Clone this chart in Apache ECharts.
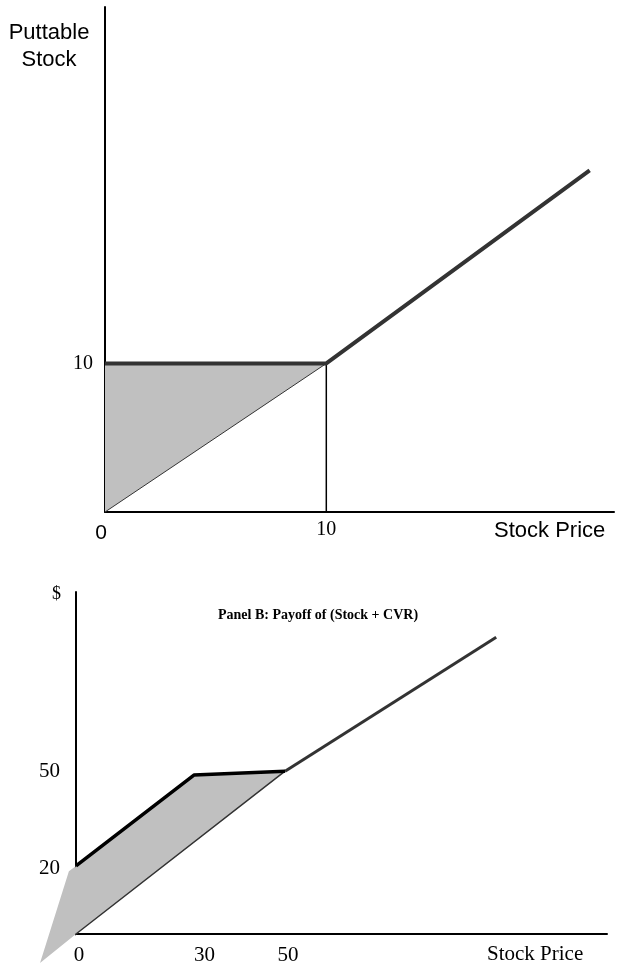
<!DOCTYPE html>
<html>
<head>
<meta charset="utf-8">
<script src="https://cdn.jsdelivr.net/npm/echarts@6/dist/echarts.min.js"></script>
<style>
html,body{margin:0;padding:0;background:#fff}
#chart{width:617px;height:967px}
</style>
</head>
<body>
<div id="chart"></div>
<script>
// ---- Panel A: puttable stock ----
var aPayoff = [[0, 10], [10, 10], [21.9, 23]]
var aStock = [[0, 0], [10, 10]]
var aStrike = [[10, 0], [10, 10]]
var aShade = [[0, 0], [0, 10], [10, 10]]
var aXTicks = [0, 10]
var aYTicks = [10]

// ---- Panel B: stock + CVR ----
var bUpper = [[0, 20.9], [28.2, 48.8], [50, 50]]
var bLeftEdge = [[-8.6, -8.9], [-1.7, 19.3], [0, 20.9]]
var bLower = [[-8.6, -8.9], [0, 0], [50, 50]]
var bTail = [[50, 50], [100.5, 91.1]]
var bShade = [[-8.6, -8.9], [-1.7, 19.3], [0, 20.9], [28.2, 48.8], [50, 50], [0, 0]]
var bXTicks = [0, 30, 50]
var bYTicks = [20, 50]

var serif = 'Liberation Serif'
var sans = 'Liberation Sans'

function polygon(idx, pts) {
  return {
    type: 'custom',
    xAxisIndex: idx, yAxisIndex: idx,
    silent: true,
    data: [0],
    renderItem: function (params, api) {
      return {
        type: 'polygon',
        shape: { points: pts.map(function (p) { return api.coord(p) }) },
        style: { fill: '#c0c0c0', stroke: 'none' }
      }
    }
  }
}

function line(idx, data, width, color) {
  return {
    type: 'line', xAxisIndex: idx, yAxisIndex: idx,
    data: data, symbol: 'none', clip: false, silent: true,
    lineStyle: { width: width, color: color }
  }
}

var axisLine = { show: true, onZero: false, lineStyle: { color: '#000', width: 2 } }

var chart = echarts.init(document.getElementById('chart'))
chart.setOption({
  animation: false,
  title: [{
    text: 'Panel B: Payoff of (Stock + CVR)',
    left: 213, top: 603,
    textStyle: { fontFamily: serif, fontWeight: 'bold', fontSize: 14, color: '#000' }
  }],
  graphic: [
    { type: 'text', x: 49, y: 19, style: { text: 'Puttable\nStock', font: '22px ' + sans, fill: '#000', align: 'center', lineHeight: 27 } },
    { type: 'text', x: 494, y: 520, style: { text: 'Stock Price', font: '22px ' + sans, fill: '#000' } },
    { type: 'text', x: 52, y: 585, style: { text: '$', font: '18px ' + serif, fill: '#000' } },
    { type: 'text', x: 487, y: 944, style: { text: 'Stock Price', font: '21px ' + serif, fill: '#000' } }
  ],
  grid: [
    { left: 105, top: 7, width: 512, height: 505 },
    { left: 76, top: 592, width: 531, height: 342 }
  ],
  xAxis: [{
    gridIndex: 0, type: 'value', min: 0, max: 23, interval: 10,
    axisLine: axisLine, axisTick: { show: false }, splitLine: { show: false },
    axisLabel: {
      margin: 8, color: '#000',
      formatter: function (v) {
        if (aXTicks.indexOf(v) < 0) return ''
        return v === 0 ? '{s|0}' : '{r|' + v + '}'
      },
      rich: {
        s: { fontFamily: sans, fontSize: 21, padding: [3, 8, 0, 0] },
        r: { fontFamily: serif, fontSize: 20 }
      }
    }
  }, {
    gridIndex: 1, type: 'value', min: 0, max: 127, interval: 10,
    axisLine: axisLine, axisTick: { show: false }, splitLine: { show: false },
    axisLabel: {
      margin: 11, color: '#000', fontFamily: serif, fontSize: 21,
      formatter: function (v) { return bXTicks.indexOf(v) < 0 ? '' : String(v) },
      padding: [0, 0, 0, 6]
    }
  }],
  yAxis: [{
    gridIndex: 0, type: 'value', min: 0, max: 34, interval: 10,
    axisLine: axisLine, axisTick: { show: false }, splitLine: { show: false },
    axisLabel: {
      margin: 12, color: '#000', fontFamily: serif, fontSize: 20,
      formatter: function (v) { return aYTicks.indexOf(v) < 0 ? '' : String(v) }
    }
  }, {
    gridIndex: 1, type: 'value', min: 0, max: 105, interval: 10,
    axisLine: axisLine, axisTick: { show: false }, splitLine: { show: false },
    axisLabel: {
      margin: 16, color: '#000', fontFamily: serif, fontSize: 21,
      formatter: function (v) { return bYTicks.indexOf(v) < 0 ? '' : String(v) }
    }
  }],
  series: [
    polygon(0, aShade),
    line(0, aStock, 1, '#333'),
    line(0, aStrike, 1.5, '#000'),
    line(0, aPayoff, 4, '#333'),

    polygon(1, bShade),
    line(1, bLeftEdge, 1.5, '#333'),
    line(1, bLower, 1.5, '#333'),
    line(1, bTail, 3, '#333'),
    line(1, bUpper, 3.5, '#000')
  ]
})
</script>
</body>
</html>
